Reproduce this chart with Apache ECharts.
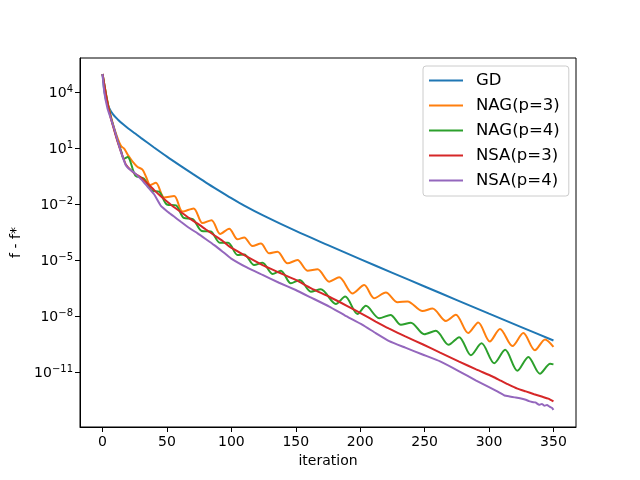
<!DOCTYPE html>
<html>
<head>
<meta charset="utf-8">
<script src="https://cdn.jsdelivr.net/npm/echarts@6/dist/echarts.min.js"></script>
<style>
html, body { margin: 0; padding: 0; background: #fff; }
#chart { width: 640px; height: 480px; }
</style>
</head>
<body>
<div id="chart"></div>
<script>
// values are [iteration, log10(f - f*)]
let gdPts = [[0,5.0],[1,4.3],[2,3.85],[3,3.55],[5,3.2],[8,2.85],[12,2.55],[16,2.3],[20,2.08],[25,1.82],[30,1.56],[40,1.06],
	[50,0.57],[60,0.1],[70,-0.36],[80,-0.81],[90,-1.24],[100,-1.66],[110,-2.06],[125,-2.6],[150,-3.42],[175,-4.18],
	[200,-4.93],[225,-5.67],[250,-6.4],[275,-7.13],[300,-7.86],[325,-8.58],[350,-9.3]]

let nag3Pts = [[0,5.0],[3,3.8],[6,2.85],[9,2.1],[12,1.5],[14.5,1.12],[16.8,1.0],[20,0.62],[23.3,0.3],[27,0.02],[31,-0.13],
	[34,-0.55],[37,-0.96],[41.4,-0.84],[47.9,-1.62],[55.6,-1.55],[62.1,-2.38],[70.7,-2.21],[77.6,-3.0],[84.6,-2.84],
	[91.3,-3.58],[98.3,-3.3],[104.8,-3.87],[110,-3.77],[116.4,-4.23],[122.9,-4.09],[129.3,-4.62],[135.8,-4.53],
	[143.6,-5.16],[151.3,-4.98],[159.1,-5.55],[166.9,-5.48],[175.9,-6.14],[183.7,-5.91],[194,-6.77],[203.1,-6.32],
	[210.8,-7.03],[219.9,-6.72],[229,-7.25],[236.7,-7.2],[248.4,-7.72],[256.1,-7.58],[266.5,-8.25],[274.2,-7.92],
	[283.8,-8.9],[291.6,-8.33],[300.6,-9.35],[308.5,-8.68],[318.2,-9.6],[326.6,-8.9],[335.6,-9.82],[343.5,-9.24],[350,-9.64]]

let nag4Pts = [[0,5.0],[3,3.8],[6,2.8],[9,2.05],[12,1.35],[14.5,0.85],[16.5,0.45],[19.5,0.55],[25.5,-0.45],[32,-0.6],
	[38,-1.25],[44,-1.32],[50,-2.0],[57,-2.05],[63,-2.72],[70,-2.78],[77,-3.42],[84,-3.45],[91,-4.05],[97.5,-4.05],
	[104.8,-4.71],[110,-4.68],[117.7,-5.25],[124.2,-5.12],[131.9,-5.73],[138.4,-5.55],[146.2,-6.23],[153.1,-6.05],
	[161.7,-6.68],[169.4,-6.55],[181.1,-7.34],[188.3,-6.94],[197.9,-7.87],[204.4,-7.44],[214.7,-8.1],[223.5,-7.93],
	[231.6,-8.46],[239.3,-8.34],[249.7,-8.96],[258.7,-8.78],[268.6,-9.53],[276.8,-9.12],[285.9,-10.09],[294.2,-9.45],
	[304,-10.52],[312.5,-9.8],[322,-10.92],[330.5,-10.18],[339.5,-11.08],[347.5,-10.55],[350,-10.58]]

let nsa3Pts = [[0,5.0],[3,3.75],[6,2.75],[9,2.0],[12,1.3],[15,0.7],[18,0.15],[19.5,0.02],[24,-0.28],[29.8,-0.55],[35,-0.88],
	[40.1,-1.23],[45,-1.55],[50.5,-1.87],[55,-2.12],[60.8,-2.4],[67,-2.72],[73.8,-3.03],[80,-3.33],[86.7,-3.65],[93,-3.95],
	[98.3,-4.25],[110,-4.72],[124.2,-5.25],[137,-5.65],[150,-6.05],[162,-6.5],[176,-6.95],[190,-7.45],[202,-7.9],
	[212,-8.28],[222.5,-8.66],[235,-9.08],[248.4,-9.5],[262,-9.95],[276.8,-10.43],[290,-10.85],[302.7,-11.23],[309,-11.45],
	[315.6,-11.68],[322,-11.88],[328.5,-12.03],[335,-12.18],[341.5,-12.32],[346,-12.42],[350,-12.57]]

let nsa4Pts = [[0,5.0],[1.3,4.05],[3.9,3.14],[6.5,2.6],[9.1,2.05],[12,1.35],[14.3,0.82],[16.5,0.38],[18.1,0.1],[20,-0.05],
	[24.6,-0.3],[30,-0.65],[35,-1.05],[40,-1.45],[45.3,-2.08],[50.5,-2.39],[55,-2.62],[60.8,-2.93],[67,-3.25],[73.8,-3.55],
	[80,-3.85],[86.7,-4.18],[93,-4.52],[99.6,-4.89],[112,-5.38],[124.2,-5.78],[137,-6.2],[150,-6.59],[162,-7.0],[176,-7.48],
	[188,-7.95],[201.8,-8.46],[212,-8.9],[222.5,-9.33],[235,-9.68],[248.4,-10.05],[262,-10.42],[276.8,-10.95],[290,-11.45],
	[300,-11.8],[306,-12.02],[312,-12.25],[316,-12.3],[320,-12.35],[324,-12.4],[328.5,-12.48],[331,-12.55],[333.5,-12.6],
	[336,-12.62],[338.9,-12.75],[341,-12.7],[343,-12.8],[345,-12.76],[347,-12.85],[349,-12.92],[350,-13.02]]

let names = ['GD', 'NAG(p=3)', 'NAG(p=4)', 'NSA(p=3)', 'NSA(p=4)']
let colors = ['#1f77b4', '#ff7f0e', '#2ca02c', '#d62728', '#9467bd']
let smooths = [0.3, 0.3, 0.3, 0.2, 0.12]
let allPts = [gdPts, nag3Pts, nag4Pts, nsa3Pts, nsa4Pts]

let xTicks = [0, 50, 100, 150, 200, 250, 300, 350]
let yTickExp = [4, 1, -2, -5, -8, -11]

let font = 'DejaVu Sans'

let series = allPts.map((pts, i) => ({
	name: names[i],
	type: 'line',
	showSymbol: false,
	symbol: 'none',
	smooth: smooths[i],
	data: pts.map(p => [p[0], Math.pow(10, p[1])]),
	lineStyle: { color: colors[i], width: 2 },
	itemStyle: { color: colors[i] },
	emphasis: { disabled: true }
}))

let chart = echarts.init(document.getElementById('chart'))
chart.setOption({
	animation: false,
	backgroundColor: '#fff',
	grid: {
		left: 80, right: 64, top: 58, bottom: 53,
		show: true, borderColor: '#000', borderWidth: 1,
		containLabel: false, outerBoundsMode: 'none'
	},
	legend: {
		orient: 'vertical',
		left: 423, top: 66,
		padding: [6, 9, 7, 6],
		itemWidth: 34, itemHeight: 18, itemGap: 8,
		icon: 'path://M0,0 L34,0 L34,2 L0,2 Z',
		symbolKeepAspect: true,
		backgroundColor: 'rgba(255,255,255,0.8)',
		borderColor: '#cccccc', borderWidth: 1, borderRadius: 3,
		textStyle: { fontFamily: font, fontSize: 16.5, color: '#000', padding: [0, 0, 0, 8] },
		data: names
	},
	xAxis: {
		type: 'value',
		min: -17.5, max: 367.5,
		name: 'iteration', nameLocation: 'middle', nameGap: 24,
		nameTextStyle: { fontFamily: font, fontSize: 14, color: '#000' },
		axisLine: { show: true, onZero: false, lineStyle: { color: '#000', width: 1 } },
		axisTick: { show: true, length: 5, lineStyle: { color: '#000' }, customValues: xTicks },
		axisLabel: { fontFamily: font, fontSize: 14, color: '#000', margin: 8, customValues: xTicks },
		splitLine: { show: false }
	},
	yAxis: {
		type: 'log', logBase: 10,
		min: Math.pow(10, -13.94), max: Math.pow(10, 5.86),
		name: 'f - f*', nameLocation: 'middle', nameGap: 56,
		nameTextStyle: { fontFamily: font, fontSize: 14, color: '#000' },
		axisLine: { show: true, onZero: false, lineStyle: { color: '#000', width: 1 } },
		axisTick: { show: true, length: 5, lineStyle: { color: '#000' }, customValues: yTickExp.map(e => Math.pow(10, e)) },
		axisLabel: {
			margin: 7,
			customValues: yTickExp.map(e => Math.pow(10, e)),
			formatter: v => {
				let e = Math.round(Math.log10(v))
				return '{b|10}{s|' + (e < 0 ? '\u2212' : '') + Math.abs(e) + '}'
			},
			rich: {
				b: { fontFamily: font, fontSize: 14, color: '#000', lineHeight: 16, verticalAlign: 'bottom' },
				s: { fontFamily: font, fontSize: 10, color: '#000', lineHeight: 10, padding: [0, 0, 12, 0], verticalAlign: 'top' }
			}
		},
		splitLine: { show: false }
	},
	series: series
})
</script>
</body>
</html>
